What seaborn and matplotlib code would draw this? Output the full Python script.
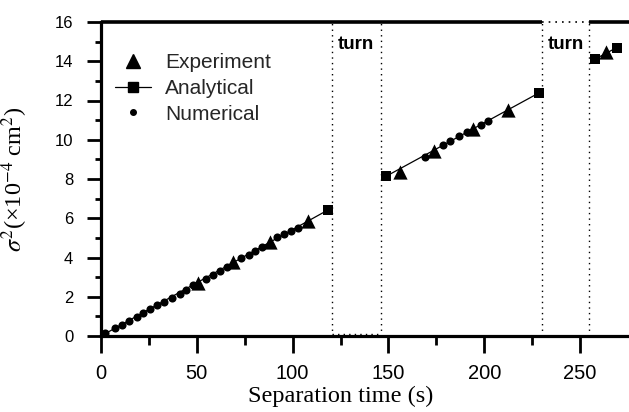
import matplotlib
matplotlib.use("Agg")
import matplotlib.pyplot as plt
from matplotlib.lines import Line2D
import seaborn as sns
import pandas as pd

# ---------------- data ----------------
exp_t = [50.4, 69.0, 88.1, 108.1, 155.9, 174.0, 194.1, 212.4, 263.6]
exp_s = [2.72, 3.76, 4.81, 5.88, 8.38, 9.45, 10.55, 11.50, 14.45]

ana_seg = [1, 1, 2, 2, 3, 3]
ana_t = [0.0, 118.2, 148.6, 228.4, 257.6, 269.2]
ana_s = [0.0, 6.41, 8.13, 12.38, 14.10, 14.70]
ana_marked = [False, True, True, True, True, True]

num_t = [2.1, 7.3, 10.8, 14.8, 18.6, 21.7, 25.5, 29.0, 32.8, 36.8, 41.2, 44.3,
         47.8, 54.7, 58.6, 62.0, 66.0, 73.3, 77.0, 80.6, 84.1, 91.6, 95.4,
         99.1, 102.7,
         169.0, 178.5, 182.3, 186.7, 191.0, 198.5, 202.0]
num_s = [0.17, 0.39, 0.56, 0.75, 0.99, 1.19, 1.38, 1.58, 1.73, 1.94, 2.14, 2.35,
         2.59, 2.91, 3.11, 3.33, 3.54, 3.96, 4.15, 4.34, 4.52, 5.03, 5.20,
         5.36, 5.51,
         9.10, 9.71, 9.95, 10.17, 10.37, 10.77, 10.93]

turn_start = [120.5, 230.3]
turn_end = [146.0, 254.8]
turn_label = ["turn", "turn"]

x_ticks = [0, 50, 100, 150, 200, 250]
y_ticks = [0, 2, 4, 6, 8, 10, 12, 14, 16]

# ---------------- style ----------------
sns.set_theme(style="ticks")
plt.rcParams["font.family"] = ["Liberation Sans", "DejaVu Sans"]
plt.rcParams["mathtext.fontset"] = "stix"

fig = plt.figure(figsize=(6.29, 4.12), dpi=100)
ax = fig.add_axes([101 / 629, 76 / 412, 1.0 - 101 / 629, (336 - 22) / 412])

df_exp = pd.DataFrame({"t": exp_t, "s": exp_s})
df_ana = pd.DataFrame({"seg": ana_seg, "t": ana_t, "s": ana_s, "m": ana_marked})
df_num = pd.DataFrame({"t": num_t, "s": num_s})

# analytical lines
for seg, g in df_ana.groupby("seg"):
    sns.lineplot(data=g, x="t", y="s", ax=ax, color="black", lw=0.9,
                 estimator=None, sort=False, legend=False, zorder=2)
sns.scatterplot(data=df_ana[df_ana["m"]], x="t", y="s", ax=ax, marker="s",
                s=62, color="black", edgecolor="black", linewidth=0, zorder=4,
                legend=False)
sns.scatterplot(data=df_num, x="t", y="s", ax=ax, marker="o", s=34,
                color="black", edgecolor="black", linewidth=0, zorder=3,
                legend=False)
sns.scatterplot(data=df_exp, x="t", y="s", ax=ax, marker="^", s=105,
                color="black", edgecolor="black", linewidth=0, zorder=5,
                legend=False)

ax.set_xlim(0, 275.5)
ax.set_ylim(0, 16)

# turn regions
for a, b, lab in zip(turn_start, turn_end, turn_label):
    ax.vlines([a, b], 0, 16, colors="black", linestyles=(0, (1, 3)), lw=1.0,
              zorder=1)
    ax.text(a + 2.8, 14.85, lab, fontsize=13.5, fontweight="bold",
            ha="left", va="center", color="black")
ax.hlines(0.12, turn_start[0], turn_end[0], colors="black",
          linestyles=(0, (1, 3)), lw=1.0)
ax.hlines(16, turn_start[1], turn_end[1], colors="black",
          linestyles=(0, (1, 3)), lw=1.2, clip_on=False)

# spines
for side in ["right", "top"]:
    ax.spines[side].set_visible(False)
for side in ["left", "bottom"]:
    ax.spines[side].set_linewidth(2.3)
    ax.spines[side].set_color("black")
ax.hlines(16, 0, turn_start[1], colors="black", lw=2.6, clip_on=False)
ax.hlines(16, turn_end[1], 275.5, colors="black", lw=2.6, clip_on=False)

ax.set_xticks(x_ticks)
ax.set_yticks(y_ticks)
ax.set_xticks([25, 75, 125, 175, 225], minor=True)
ax.set_yticks([1, 3, 5, 7, 9, 11, 13, 15], minor=True)
ax.tick_params(axis="x", which="major", direction="out", length=12, width=2.0,
               labelsize=14.5, pad=8, color="black", labelcolor="black")
ax.tick_params(axis="x", which="minor", direction="out", length=6.5, width=2.0,
               color="black")
ax.tick_params(axis="y", which="major", direction="out", length=10, width=2.0,
               labelsize=12, pad=10, color="black", labelcolor="black")
ax.tick_params(axis="y", which="minor", direction="out", length=4, width=2.0,
               color="black")

ax.set_xlabel("Separation time (s)", family=["Liberation Serif"],
              fontsize=17.5, color="black")
ax.xaxis.set_label_coords((341 - 101) / 528, -0.16)
ax.set_ylabel(r"$\sigma^2$(×10$^{-4}$ cm$^2$)", family=["Liberation Serif"],
              fontsize=17.5, color="black")
ax.yaxis.set_label_coords(-(101 - 30) / 528, 0.5)

handles = [
    Line2D([], [], ls="none", marker="^", ms=9.5, color="black"),
    Line2D([], [], ls="-", lw=0.9, marker="s", ms=6.5, color="black"),
    Line2D([], [], ls="none", marker="o", ms=4, color="black"),
]
ax.legend(handles, ["Experiment", "Analytical", "Numerical"], loc="upper left",
          bbox_to_anchor=(0.027, 0.90), frameon=False, fontsize=15,
          handlelength=1.7, handletextpad=0.7, labelspacing=0.32,
          borderpad=0, borderaxespad=0)

fig.savefig("out.png", dpi=100)
